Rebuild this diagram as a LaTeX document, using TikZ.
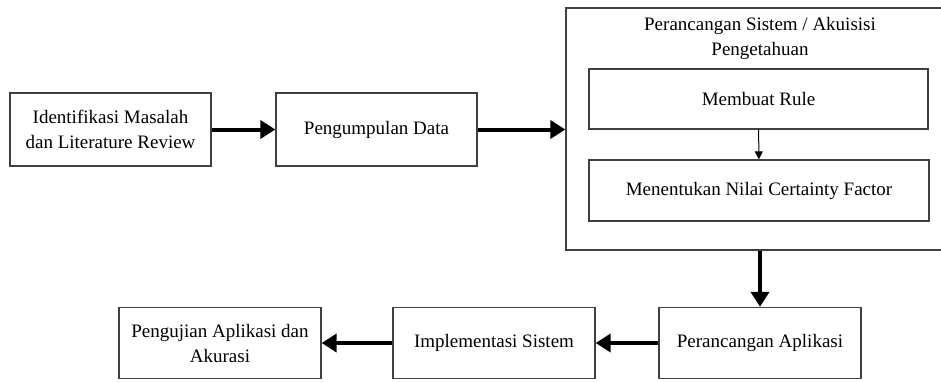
\documentclass[tikz,border=0pt]{standalone}
\usepackage{fontspec}
\setmainfont{Liberation Serif}
\usetikzlibrary{arrows.meta}
\begin{document}
\begin{tikzpicture}[x=1pt,y=-1pt,
  box/.style={draw=black!75, line width=1.3pt, fill=white, align=center, inner sep=0pt,
    font=\fontsize{19}{25}\selectfont},
  bigarrow/.style={line width=4pt, -{Triangle[length=15pt,width=18pt]}},
  smallarrow/.style={line width=1pt, -{Triangle[length=8pt,width=8pt]}}]
\clip (0,0) rectangle (941,381);
\fill[white] (0,0) rectangle (941,381);
% big container
\node[box, minimum width=388pt, minimum height=242pt] (big) at (760,129) {};
\node[align=center, font=\fontsize{19}{25}\selectfont] (bigt) at (760,38) {Perancangan Sistem / Akuisisi\\Pengetahuan};
\node[box, minimum width=339pt, minimum height=60pt] (rule) at (758.5,99) {Membuat Rule};
\node[box, minimum width=340pt, minimum height=61pt] (cf) at (759,190.5) {Menentukan Nilai Certainty Factor};
\node[box, minimum width=201pt, minimum height=73pt] (idm) at (110.5,129.5) {Identifikasi Masalah\\dan Literature Review};
\node[box, minimum width=201pt, minimum height=73pt] (pd) at (376.5,129.5) {Pengumpulan Data};
\node[box, minimum width=202pt, minimum height=71pt] (pa) at (760,343) {Perancangan Aplikasi};
\node[box, minimum width=202pt, minimum height=71pt] (is) at (494,343) {Implementasi Sistem};
\node[box, minimum width=202pt, minimum height=71pt] (pj) at (220,343) {Pengujian Aplikasi dan\\Akurasi};
\draw[bigarrow] (idm) -- (pd);
\draw[bigarrow] (pd.east) -- (pd.east -| big.west);
\draw[smallarrow] (rule) -- (cf);
\draw[bigarrow] (big.south -| pa.north) -- (pa.north);
\draw[bigarrow] (pa) -- (is);
\draw[bigarrow] (is) -- (pj);
\end{tikzpicture}
\end{document}
